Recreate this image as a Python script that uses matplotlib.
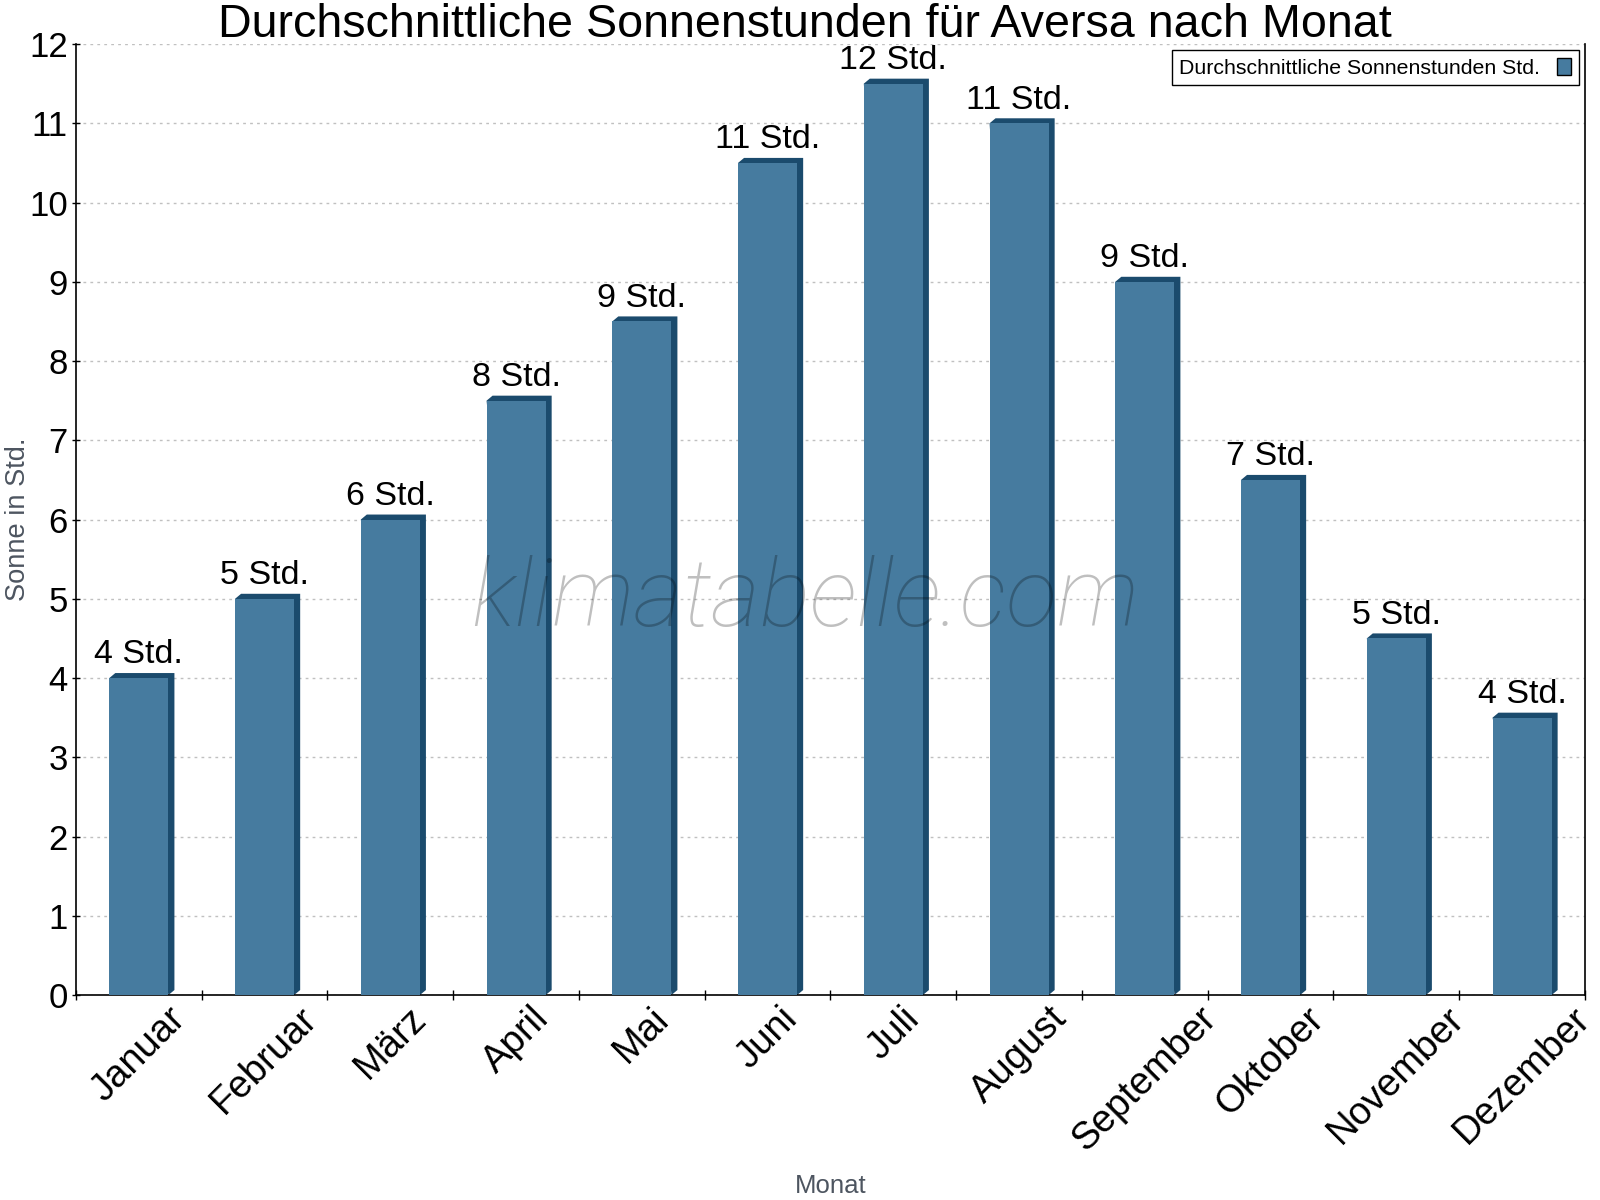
import matplotlib
matplotlib.use("Agg")
import matplotlib.pyplot as plt
from matplotlib.patches import Polygon, Patch
import numpy as np

plt.rcParams["font.family"] = "Liberation Sans"

months = ["Januar", "Februar", "März", "April", "Mai", "Juni", "Juli",
          "August", "September", "Oktober", "November", "Dezember"]
sun_hours = [4, 5, 6, 7.5, 8.5, 10.5, 11.5, 11, 9, 6.5, 4.5, 3.5]
bar_labels = ["4 Std.", "5 Std.", "6 Std.", "8 Std.", "9 Std.", "11 Std.",
              "12 Std.", "11 Std.", "9 Std.", "7 Std.", "5 Std.", "4 Std."]
yticks = list(range(0, 13))

front = "#467b9f"
dark = "#1b4b6d"
bar_w = 0.47

fig = plt.figure(figsize=(16, 12), dpi=100)
ax = fig.add_axes([0.0475, 0.1708, 0.9431, 0.7925])

x = np.arange(len(months))
ax.set_xlim(-0.5, len(months) - 0.5)
ax.set_ylim(0, 12)

# pixel depth of the 3d side, turned into data units
inv = ax.transData.inverted()
p0 = inv.transform((0, 0))
p1 = inv.transform((6, 5))
dx, dy = p1 - p0

for xi, h in zip(x, sun_hours):
    x0, x1 = xi - bar_w / 2, xi + bar_w / 2
    side = Polygon([(x1, 0), (x1 + dx, dy), (x1 + dx, h + dy),
                    (x0 + dx, h + dy), (x0, h)],
                   closed=True, facecolor=dark, edgecolor="none", zorder=2)
    ax.add_patch(side)

ax.bar(x, sun_hours, width=bar_w, color=front, zorder=3)

for xi, h, lab in zip(x, sun_hours, bar_labels):
    ax.annotate(lab, (xi, h + dy), xytext=(0, 2), textcoords="offset points",
                ha="center", va="bottom", fontsize=24.5, zorder=6)

# axes styling
ax.set_yticks(yticks)
ax.tick_params(axis="y", direction="inout", length=6, width=1, labelsize=25, pad=3)
ax.yaxis.grid(True, linestyle=(0, (2, 3)), color="#c0c0c0", linewidth=1)
ax.set_axisbelow(True)

ax.set_xticks(x)
ax.set_xticklabels(months, rotation=45, ha="center", va="top", fontsize=27.5)
ax.tick_params(axis="x", which="major", length=0, pad=4)
ax.set_xticks(np.arange(-0.5, len(months)), minor=True)
ax.tick_params(axis="x", which="minor", direction="inout", length=6.5, width=1)

ax.spines["top"].set_visible(False)
for s in ["left", "bottom", "right"]:
    ax.spines[s].set_linewidth(1.2)
    ax.spines[s].set_color("black")

# watermark
ax.text(0.483, 0.415, "klimatabelle.com", transform=ax.transAxes,
        ha="center", va="center", fontsize=68, style="italic", weight="light",
        family=["Roboto", "DejaVu Sans"], color="black", alpha=0.25, zorder=5)

leg = ax.legend(handles=[Patch(facecolor=front, edgecolor="black", linewidth=1)],
                labels=["Durchschnittliche Sonnenstunden Std."],
                loc="upper right", fontsize=15.3, markerfirst=False,
                fancybox=False, framealpha=1, edgecolor="black",
                borderpad=0.35, handletextpad=0.8, handlelength=0.65,
                handleheight=0.9, borderaxespad=0.3)
leg.get_frame().set_linewidth(1)
leg.set_zorder(7)

fig.text(0.503, 1 - 37 / 1200, "Durchschnittliche Sonnenstunden für Aversa nach Monat",
         ha="center", va="baseline", fontsize=33.6)
fig.text(0.0115, 0.567, "Sonne in Std.", rotation=90, ha="center", va="center",
         fontsize=19.6, color="#4d5560")
fig.text(0.519, 0.012, "Monat", ha="center", va="center", fontsize=18.5, color="#4d5560")

fig.savefig("out.png", dpi=100)
